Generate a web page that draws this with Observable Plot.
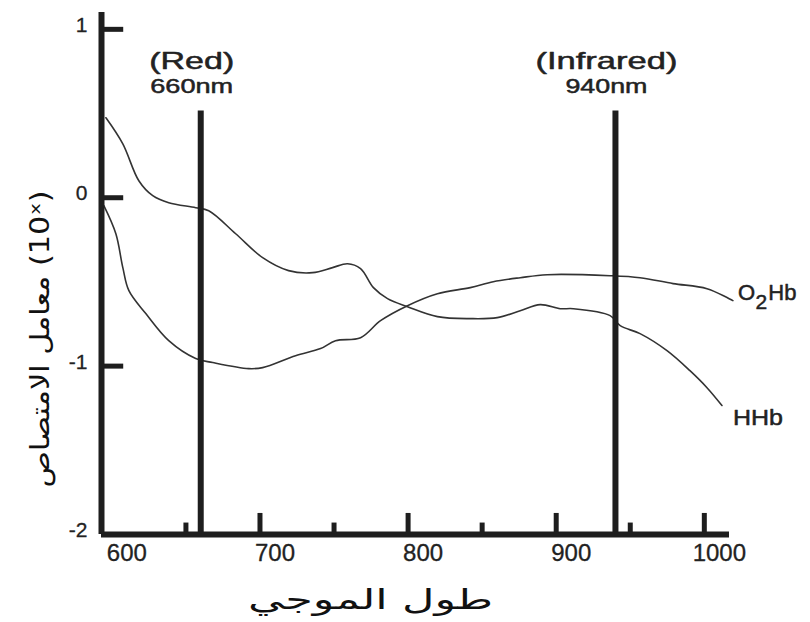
<!DOCTYPE html>
<html>
<head>
<meta charset="utf-8">
<script src="https://cdn.jsdelivr.net/npm/d3@7"></script>
<script src="https://cdn.jsdelivr.net/npm/@observablehq/plot@0.6"></script>
<style>
  body { margin: 0; background: #fff; }
  #chart svg { display: block; }
</style>
</head>
<body>
<div id="chart"></div>
<script>
// ---- data ----
const hhbWavelength = [596, 607.4, 618.2, 627.6, 638.4, 656.6, 665.4, 683.6, 701.8, 719.3, 735.5, 749, 759.1, 767.9, 776.6, 786.1, 799.6, 819.8, 842, 860.2, 875.7, 889.2, 902.7, 911.5, 936.4, 943.2, 956.6, 974.8, 990.3, 1001.8, 1011.9];
const hhbValue      = [0.475, 0.32, 0.101, 0.012, -0.03, -0.059, -0.077, -0.214, -0.356, -0.433, -0.445, -0.415, -0.392, -0.421, -0.534, -0.599, -0.647, -0.706, -0.718, -0.712, -0.671, -0.635, -0.659, -0.659, -0.7, -0.76, -0.807, -0.908, -1.027, -1.128, -1.234];

const o2hbWavelength = [594.6, 602.7, 607.4, 611.5, 622.9, 638.4, 656.6, 668.1, 692.4, 701.8, 724, 740.9, 751, 767.9, 781.4, 799.6, 819.8, 842, 857.5, 875.7, 893.9, 936.4, 956.6, 978.9, 1001.8, 1019.3];
const o2hbValue      = [-0.047, -0.214, -0.415, -0.552, -0.688, -0.849, -0.955, -0.979, -1.015, -1.009, -0.938, -0.896, -0.849, -0.831, -0.73, -0.641, -0.57, -0.534, -0.499, -0.475, -0.457, -0.463, -0.475, -0.51, -0.54, -0.611];

const xTickValues = [600, 700, 800, 900, 1000];
const xMinorTickValues = [650, 750, 850, 950];
const yTickValues = [1, 0, -1, -2];
const yInnerTickValues = [1, 0, -1];

const markerWavelengths = [660, 940];
const markerNames = ["(Red)", "(Infrared)"];
const markerNm = ["660nm", "940nm"];
const markerTop = 0.515;

const seriesLabelText = ["HHb"];
const seriesLabelX = [1019.3];
const seriesLabelY = [-1.306];
// O2Hb label split in parts so the subscript 2 can be lowered
const o2Parts = ["O", "Hb"];
const o2PartsX = [1022.7, 1043.2];
const o2LabelY = -0.564;
const o2SubText = ["2"];
const o2SubX = [1034.6];
const o2SubY = -0.62;

const markerNameY = 0.813;
const markerNmY = 0.659;

const xTitle = "طول الموجي";
const yTitle = "معامل الامتصاص (10ˣ)";

const xDomain = [593, 1017];
const yDomain = [-2, 1.1];

// ---- tables ----
const hhb = hhbWavelength.map((w, i) => ({w, v: hhbValue[i]}));
const o2hb = o2hbWavelength.map((w, i) => ({w, v: o2hbValue[i]}));
const markers = markerWavelengths.map((w, i) => ({w, name: markerNames[i], nm: markerNm[i]}));

const ink = "#1e1e1e";
const txt = "#222";
const sans = "Liberation Sans, Arial, sans-serif";
const arabic = "DejaVu Sans, sans-serif";
const bolden = {stroke: txt, strokeWidth: 0.5};

const chart = Plot.plot({
  width: 810,
  height: 622,
  marginLeft: 101,
  marginRight: 81,
  marginTop: 12,
  marginBottom: 88,
  x: {domain: xDomain, axis: null},
  y: {domain: yDomain, axis: null},
  style: {background: "#fff", color: ink},
  marks: [
    // curves
    Plot.line(hhb, {x: "w", y: "v", curve: "catmull-rom", stroke: "#333", strokeWidth: 1.6}),
    Plot.line(o2hb, {x: "w", y: "v", curve: "catmull-rom", stroke: "#333", strokeWidth: 1.6}),
    // marker lines
    Plot.ruleX(markers, {x: "w", y1: yDomain[0], y2: markerTop, stroke: ink, strokeWidth: 6}),
    // axes lines
    Plot.ruleX([xDomain[0]], {y1: yDomain[0], y2: yDomain[1], stroke: ink, strokeWidth: 6}),
    Plot.ruleY([yDomain[0]], {x1: xDomain[0], x2: xDomain[1], stroke: ink, strokeWidth: 6}),
    // inward y ticks
    Plot.ruleY(yInnerTickValues, {y: d => d, x1: xDomain[0], x2: xDomain[0] + 15, stroke: ink, strokeWidth: 5}),
    // upward x ticks
    Plot.ruleX(xTickValues.slice(1), {x: d => d, y1: yDomain[0], y2: yDomain[0] + 0.125, stroke: ink, strokeWidth: 5}),
    Plot.ruleX(xMinorTickValues, {x: d => d, y1: yDomain[0], y2: yDomain[0] + 0.068, stroke: ink, strokeWidth: 5}),
    // tick labels
    Plot.text(xTickValues, {x: d => d, y: yDomain[0], dy: 19, dx: 15, text: d => String(d), fontSize: 24, fontFamily: sans, fill: txt, lineAnchor: "middle", ...bolden, strokeWidth: 0.3}),
    Plot.text(yTickValues, {x: xDomain[0], y: d => d, dx: -14, dy: -4, text: d => String(d), textAnchor: "end", fontSize: 21, fontFamily: sans, fill: txt, lineAnchor: "middle", ...bolden, strokeWidth: 0.3}),
    // marker annotations
    Plot.text(markers, {x: "w", y: () => markerNameY, dx: -9, text: "name", fontSize: 24, fontFamily: sans, fill: txt, lineAnchor: "middle", ...bolden}),
    Plot.text(markers, {x: "w", y: () => markerNmY, dx: -9, text: "nm", fontSize: 21, fontFamily: sans, fill: txt, lineAnchor: "middle", ...bolden}),
    // series labels
    Plot.text(seriesLabelText, {x: (d, i) => seriesLabelX[i], y: (d, i) => seriesLabelY[i], text: d => d, textAnchor: "start", fontSize: 22, fontFamily: sans, fill: txt, lineAnchor: "middle", ...bolden}),
    Plot.text(o2Parts, {x: (d, i) => o2PartsX[i], y: () => o2LabelY, text: d => d, textAnchor: "start", fontSize: 22, fontFamily: sans, fill: txt, lineAnchor: "middle", ...bolden}),
    Plot.text(o2SubText, {x: (d, i) => o2SubX[i], y: () => o2SubY, text: d => d, textAnchor: "start", fontSize: 21, fontFamily: sans, fill: txt, lineAnchor: "middle", ...bolden}),
    // axis titles
    Plot.text([xTitle], {frameAnchor: "bottom", dy: 66, dx: -45, text: d => d, fontSize: 28, fontFamily: arabic, fill: "#111", lineAnchor: "middle"}),
    Plot.text([yTitle], {frameAnchor: "left", dx: -61, dy: 214, rotate: -90, textAnchor: "start", text: d => d, fontSize: 26, fontFamily: arabic, fill: "#111", lineAnchor: "middle"})
  ]
});

// stretch some labels horizontally to the reference's wide lettering
const stretch = {"(Red)": 85, "660nm": 83, "(Infrared)": 142, "940nm": 82, "HHb": 50};
stretch[xTitle] = 245;
stretch[yTitle] = 297;
d3.select(chart).selectAll("text").each(function () {
  const t = this.textContent;
  if (stretch[t]) {
    this.setAttribute("textLength", stretch[t]);
    this.setAttribute("lengthAdjust", "spacingAndGlyphs");
  }
});

document.getElementById("chart").appendChild(chart);
</script>
</body>
</html>
